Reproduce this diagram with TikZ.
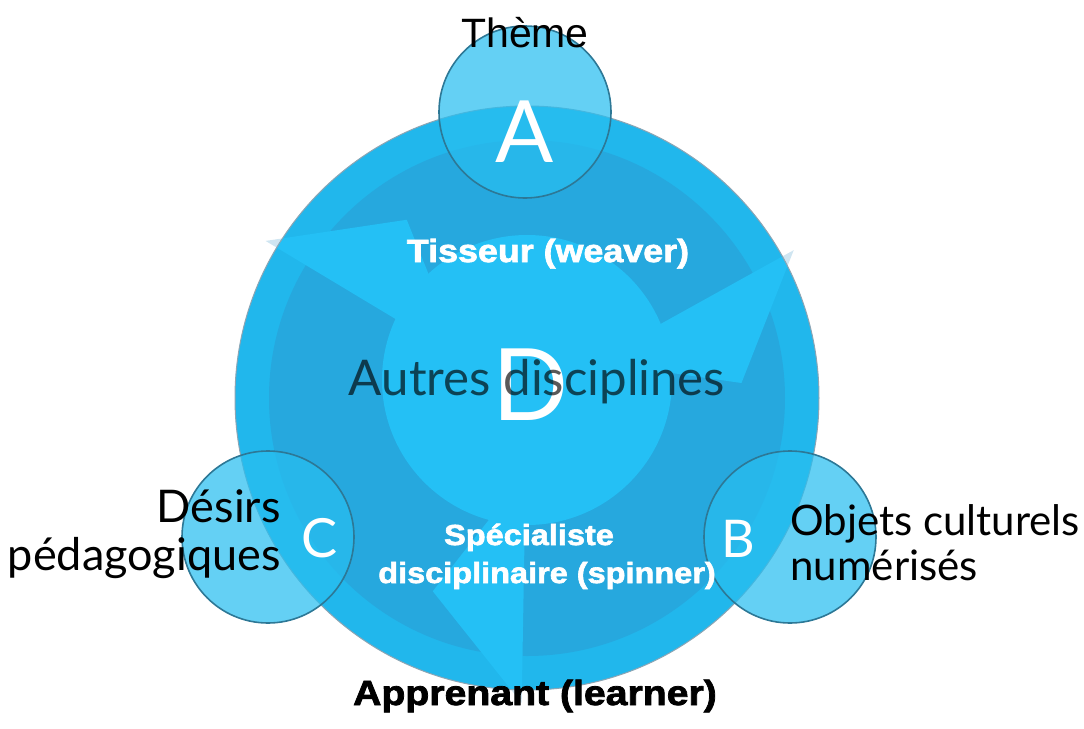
\documentclass[tikz,border=0pt]{standalone}
\usepackage{fontspec}
\setmainfont{Liberation Sans}
\newfontfamily\geo{Lato}
\newfontfamily\heavy{Liberation Sans Bold}[FakeBold=2.2,FakeStretch=1.12]

\definecolor{ring}{RGB}{33,183,236}
\definecolor{innerdisk}{RGB}{38,168,222}
\definecolor{swirl}{RGB}{36,192,245}
\definecolor{ghost}{RGB}{207,229,241}
\definecolor{bubble}{RGB}{40,190,240}
\definecolor{rim}{RGB}{45,120,150}
\definecolor{edge}{RGB}{140,165,180}

\tikzset{
  bubblefill/.style={fill=bubble, fill opacity=0.72},
  bubblerim/.style={draw=rim, line width=0.8pt},
  letter/.style={text=white, inner sep=0pt, anchor=base},
  leftlabel/.style={text=black, inner sep=0pt, anchor=base east, font=\geo\fontsize{22.5}{26}\selectfont},
  rightlabel/.style={text=black, inner sep=0pt, anchor=base west, font=\geo\fontsize{21}{25}\selectfont},
  rolelabel/.style={text=white, inner sep=0pt, anchor=base},
}

\begin{document}
\begin{tikzpicture}[x=0.5pt,y=-0.5pt]
\useasboundingbox (0,0) rectangle (1084,729);
\coordinate (O) at (527,398);

% arrow tips that stick out of the big disk
\begin{scope}[shift={(O)}]
  \foreach \p in {149,29,269}
    \fill[ghost] (-\p:305) -- (-\p+25:215) -- (-\p:75) -- cycle;
\end{scope}

% big disk: outer ring and darker inner disk
\fill[ring] (O) circle (292);
\fill[innerdisk] (O) circle (258);

% cycle of three arrows
\begin{scope}
  \clip (O) circle (292);
  \fill[swirl] (527,380) circle (145);
  \begin{scope}[shift={(O)}]
    \foreach \p in {149,29,269}
      \fill[swirl] (-\p:305) -- (-\p+25:215) -- (-\p:75) -- cycle;
  \end{scope}
\end{scope}
\draw[edge, line width=0.5pt] (O) circle (292);

% the three satellite circles
\coordinate (cA) at (525,112);
\coordinate (cB) at (790,537);
\coordinate (cC) at (268,537);
\foreach \c in {cA,cB,cC} {
  \fill[bubblefill] (\c) circle (86);
  \draw[bubblerim] (\c) circle (86);
}

% letters
\node[letter, font=\geo\fontsize{43}{50}\selectfont] (lA) at (525,162) {A};
\node[letter, font=\geo\fontsize{26}{30}\selectfont] (lB) at (738,557) {B};
\node[letter, font=\geo\fontsize{27}{30}\selectfont] (lC) at (320,557) {C};
\node[letter, font=\geo\fontsize{50}{56}\selectfont] (lD) at (531,420) {D};

% central label
\node[anchor=base, inner sep=0pt, text=black, text opacity=0.65,
      font=\geo\fontsize{24.6}{28}\selectfont] (autres) at (537,395) {Autres disciplines};

% satellite labels
\node[anchor=base, inner sep=0pt, font=\fontsize{20.5}{24}\selectfont] (theme) at (525,47) {Thème};
\node[leftlabel] (desirs) at (281,522) {Désirs};
\node[leftlabel] (pedago) at (281,570) {pédagogiques};
\node[rightlabel] (objets) at (790,535) {Objets culturels};
\node[rightlabel] (numer) at (790,580) {numérisés};

% role labels
\node[rolelabel, font=\heavy\fontsize{16}{19}\selectfont] (tisseur) at (548,262) {Tisseur (weaver)};
\node[rolelabel, font=\heavy\fontsize{14.5}{18}\selectfont] (spec1) at (529,545) {Spécialiste};
\node[rolelabel, font=\heavy\fontsize{14.5}{18}\selectfont] (spec2) at (547,583) {disciplinaire (spinner)};
\node[anchor=base, inner sep=0pt, text=black, font=\heavy\fontsize{17.5}{21}\selectfont] (appr) at (535,705) {Apprenant (learner)};
\end{tikzpicture}
\end{document}
